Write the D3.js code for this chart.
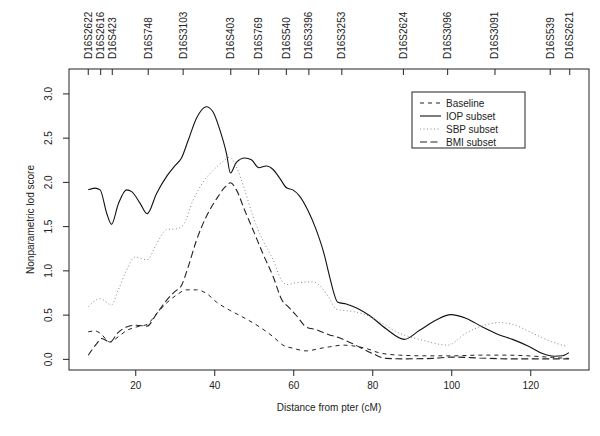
<!DOCTYPE html>
<html><head><meta charset="utf-8">
<script src="https://cdn.jsdelivr.net/npm/d3@7"></script>
<style>body{margin:0;background:#fff}svg text{font-family:"Liberation Sans",Arial,Helvetica,sans-serif;fill:#222}</style>
</head><body><svg id="c" width="600" height="436"></svg>
<script>
const markers = ["D16S2622","D16S2616","D16S423","D16S748","D16S3103","D16S403","D16S769","D16S540","D16S3396","D16S3253","D16S2624","D16S3096","D16S3091","D16S539","D16S2621"];
const markerPos = [8.1,11.25,14.18,23.28,32.12,44.18,51.25,58.25,63.96,72.3,87.89,99.09,111.07,125.05,130.0];
const xTicks = [20,40,60,80,100,120];
const yTicks = [0,0.5,1,1.5,2,2.5,3];

const iopX = [8.1,9.8,11.1,12.8,14.0,15.7,17.8,19.1,21.2,23.0,25.4,27.9,30.0,31.7,33.4,35.5,38.0,39.7,41.4,43.1,44.1,45.6,47.7,49.4,51.3,53.2,54.9,56.6,58.4,59.9,61.6,63.7,65.8,67.9,69.2,71.3,73.4,76.3,79.3,83.5,88.1,91.9,96.2,99.9,103.7,107.9,112.2,115.5,119.7,123.1,126.1,128.2,129.8];
const iopY = [1.91,1.93,1.91,1.64,1.52,1.75,1.91,1.89,1.76,1.64,1.87,2.06,2.18,2.27,2.47,2.72,2.85,2.79,2.59,2.32,2.10,2.22,2.27,2.25,2.16,2.18,2.14,2.04,1.93,1.91,1.84,1.68,1.46,1.17,0.93,0.64,0.62,0.57,0.49,0.34,0.22,0.32,0.44,0.50,0.46,0.36,0.27,0.22,0.14,0.06,0.03,0.035,0.07];

const sbpX = [8.1,11.1,14.0,15.7,17.8,19.9,23.0,25.4,27.9,30.4,32.1,34.6,37.2,39.7,42.2,43.9,45.6,47.7,49.8,52.3,54.9,57.0,58.3,60.8,65.0,67.1,69.2,70.9,74.2,77.6,81.8,86.9,92.8,99.1,103.7,108.4,112.2,115.5,120.6,125.6,129.4];
const sbpY = [0.59,0.68,0.61,0.78,1.0,1.15,1.12,1.30,1.46,1.47,1.51,1.79,2.0,2.13,2.23,2.28,2.17,1.91,1.61,1.34,1.12,0.89,0.84,0.86,0.87,0.81,0.68,0.56,0.54,0.51,0.42,0.29,0.21,0.155,0.29,0.38,0.41,0.39,0.29,0.19,0.14];

const bmiX = [8.1,10.2,11.5,13.6,15.7,17.8,20.3,23.0,25.4,27.9,30.0,31.7,33.4,35.5,38.0,40.6,42.7,44.1,45.6,47.7,49.8,52.3,54.9,57.2,58.7,60.8,63.3,65.8,69.2,70.9,75.1,80.1,83.5,88.6,95.3,100.4,107.1,113.9,120.6,129.8];
const bmiY = [0.04,0.17,0.23,0.19,0.30,0.36,0.38,0.37,0.51,0.66,0.76,0.83,1.04,1.34,1.61,1.81,1.94,1.99,1.91,1.68,1.46,1.19,0.93,0.66,0.59,0.49,0.36,0.33,0.27,0.25,0.17,0.06,0.005,0.0,0.005,0.02,0.01,0.0,0.0,0.0];

const baseX = [8.1,9.8,11.1,13.6,15.7,17.8,20.3,23.0,25.4,27.9,30.4,33.0,35.5,38.0,40.6,43.9,47.3,51.5,54.9,57.4,59.9,63.3,66.7,69.2,72.6,75.1,78.5,81.8,86.9,93.6,100.4,107.1,113.9,120.6,125.6,129.8];
const baseY = [0.305,0.316,0.29,0.19,0.25,0.32,0.36,0.39,0.51,0.63,0.72,0.78,0.78,0.74,0.64,0.55,0.47,0.36,0.25,0.155,0.12,0.09,0.117,0.136,0.155,0.147,0.117,0.068,0.042,0.034,0.034,0.042,0.042,0.031,0.016,0.005];

const seriesNames = ["Baseline","IOP subset","SBP subset","BMI subset"];

const svg = d3.select("#c");
const L=69,R=589,T=69,B=370;
const xmin=8.1,xmax=130,ymin=0,ymax=3.15;
const dx=(xmax-xmin)*0.04, dy=(ymax-ymin)*0.04;
const x = d3.scaleLinear().domain([xmin-dx,xmax+dx]).range([L,R]);
const y = d3.scaleLinear().domain([ymin-dy,ymax+dy]).range([B,T]);

const styles = [
  {name:seriesNames[0], xs:baseX, ys:baseY, color:"#222", dash:"4,4", w:1},
  {name:seriesNames[1], xs:iopX, ys:iopY, color:"#111", dash:null, w:1.1},
  {name:seriesNames[2], xs:sbpX, ys:sbpY, color:"#888", dash:"1,2.5", w:1},
  {name:seriesNames[3], xs:bmiX, ys:bmiY, color:"#222", dash:"7,3.5", w:1.1}
];

const line = d3.line().x(d=>x(d[0])).y(d=>y(d[1])).curve(d3.curveMonotoneX);
styles.forEach(s=>{
  svg.append("path").datum(s.xs.map((v,i)=>[v,s.ys[i]]))
    .attr("d",line).attr("fill","none").attr("stroke",s.color)
    .attr("stroke-width",s.w).attr("stroke-dasharray",s.dash);
});

// box
svg.append("rect").attr("x",L).attr("y",T).attr("width",R-L).attr("height",B-T)
  .attr("fill","none").attr("stroke","#222").attr("stroke-width",1);

// bottom axis
const gx = svg.append("g").attr("transform",`translate(0,${B})`)
  .call(d3.axisBottom(x).tickValues(xTicks).tickSize(6).tickPadding(6).tickFormat(d3.format("d")));
gx.select(".domain").remove();
gx.selectAll("text").style("font-size","10px");
gx.selectAll("line").attr("stroke","#222");

// left axis
const gy = svg.append("g").attr("transform",`translate(${L},0)`)
  .call(d3.axisLeft(y).tickValues(yTicks).tickSize(6).tickFormat(d3.format(".1f")));
gy.select(".domain").remove();
gy.selectAll("line").attr("stroke","#222");
gy.selectAll("text").style("font-size","10px").attr("x",null).attr("dy",null)
  .attr("text-anchor","middle")
  .attr("transform","translate(-17,0) rotate(-90)");

// top axis with markers (ticks inward)
const gt = svg.append("g");
markerPos.forEach((p,i)=>{
  gt.append("line").attr("x1",x(p)).attr("x2",x(p)).attr("y1",T).attr("y2",T+6).attr("stroke","#222");
  gt.append("text").attr("transform",`translate(${x(p)+3.5},${T-10}) rotate(-90)`)
    .attr("text-anchor","start").style("font-size","10px").text(markers[i]);
});

// axis titles
svg.append("text").attr("x",(L+R)/2).attr("y",411).attr("text-anchor","middle").style("font-size","10px").text("Distance from pter (cM)");
svg.append("text").attr("transform",`translate(34,${(T+B)/2}) rotate(-90)`).attr("text-anchor","middle").style("font-size","10px").text("Nonparametric lod score");

// legend
const lg = svg.append("g");
lg.append("rect").attr("x",412).attr("y",92).attr("width",113).attr("height",56).attr("fill","#fff").attr("stroke","#222");
styles.forEach((s,i)=>{
  const yy = 103 + i*13;
  lg.append("line").attr("x1",420).attr("x2",441).attr("y1",yy).attr("y2",yy)
    .attr("stroke",s.color).attr("stroke-width",s.w).attr("stroke-dasharray",s.dash);
  lg.append("text").attr("x",446).attr("y",yy+3.5).style("font-size","10px").text(s.name);
});
</script></body></html>
